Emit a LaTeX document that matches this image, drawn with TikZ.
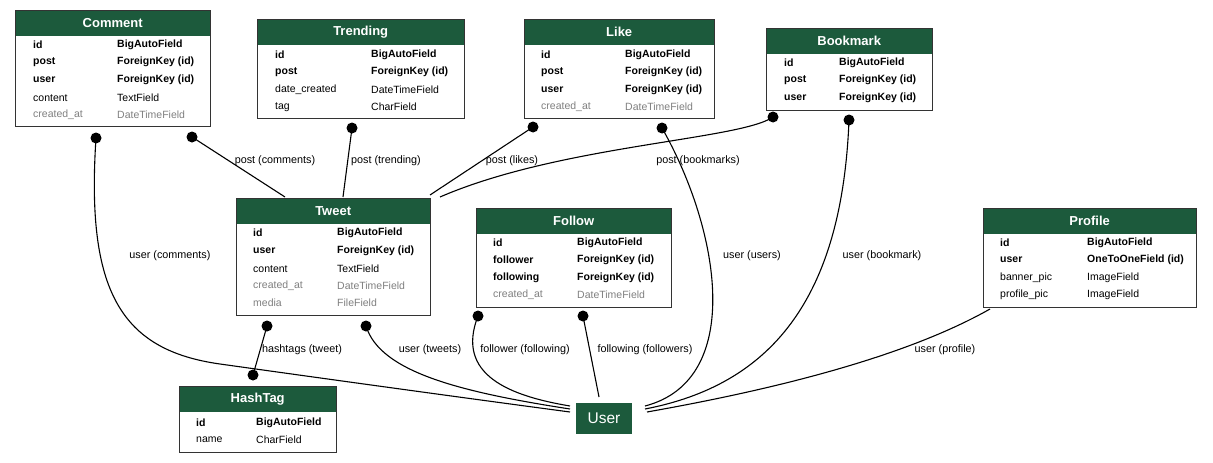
\documentclass[tikz,border=0pt]{standalone}
\usepackage{fontspec}
\setmainfont{Liberation Sans}
\usetikzlibrary{calc}
\definecolor{hdr}{HTML}{1C5A3C}
\definecolor{fgray}{HTML}{808080}
\tikzset{
  tbox/.style={draw=black!80, line width=1.4pt, inner sep=0pt},
  thead/.style={fill=hdr, inner sep=0pt, minimum height=26pt, text=white, font=\fontsize{13}{15}\selectfont\bfseries},
  cell/.style={anchor=west, inner sep=0pt, font=\fontsize{10.5}{12}\selectfont},
  lbl/.style={inner sep=1pt, font=\fontsize{10.8}{12}\selectfont},
  dot/.style={circle, fill=black, inner sep=0pt, minimum size=11pt},
  conn/.style={line width=1.1pt},
  unode/.style={fill=hdr, text=white, minimum width=56pt, minimum height=31pt, inner sep=0pt, font=\fontsize{15.5}{17}\selectfont}
}
\newcommand\mktable[6]{%
  \node[thead, anchor=north west, minimum width=#4pt] (#1-h) at (#2,#3) {#6};
  \node[tbox, anchor=north west, minimum width=#4pt, minimum height=#5pt] (#1) at (#2,#3) {};
}
\newcommand\frow[6]{%
  \node[cell] (#1-a) at (#2,#4) {#5};
  \node[cell] (#1-b) at (#3,#4) {#6};
}
\newcommand\bb[1]{\textbf{#1}}
\newcommand\gry[1]{\textcolor{fgray}{#1}}
\begin{document}
\begin{tikzpicture}[x=1pt,y=-1pt]
\useasboundingbox[fill=white] (0,0) rectangle (1213,463);

% Comment
\mktable{comment}{15}{10}{195}{116}{Comment}
\frow{cm1}{33}{117}{45}{\bb{id}}{\bb{BigAutoField}}
\frow{cm2}{33}{117}{62}{\bb{post}}{\bb{ForeignKey (id)}}
\frow{cm3}{33}{117}{80}{\bb{user}}{\bb{ForeignKey (id)}}
\frow{cm4}{33}{117}{98}{content}{TextField}
\frow{cm5}{33}{117}{115}{\gry{created\_at}}{\gry{DateTimeField}}

% Trending
\mktable{trending}{257}{19}{207}{99}{Trending}
\frow{tr1}{275}{371}{55}{\bb{id}}{\bb{BigAutoField}}
\frow{tr2}{275}{371}{72}{\bb{post}}{\bb{ForeignKey (id)}}
\frow{tr3}{275}{371}{90}{date\_created}{DateTimeField}
\frow{tr4}{275}{371}{107}{tag}{CharField}

% Like
\mktable{like}{524}{19}{190}{99}{Like}
\frow{lk1}{541}{625}{55}{\bb{id}}{\bb{BigAutoField}}
\frow{lk2}{541}{625}{72}{\bb{post}}{\bb{ForeignKey (id)}}
\frow{lk3}{541}{625}{90}{\bb{user}}{\bb{ForeignKey (id)}}
\frow{lk4}{541}{625}{107}{\gry{created\_at}}{\gry{DateTimeField}}

% Bookmark
\mktable{bookmark}{766}{28}{166}{82}{Bookmark}
\frow{bm1}{784}{839}{63}{\bb{id}}{\bb{BigAutoField}}
\frow{bm2}{784}{839}{80}{\bb{post}}{\bb{ForeignKey (id)}}
\frow{bm3}{784}{839}{98}{\bb{user}}{\bb{ForeignKey (id)}}

% Tweet
\mktable{tweet}{236}{198}{194}{117}{Tweet}
\frow{tw1}{253}{337}{233}{\bb{id}}{\bb{BigAutoField}}
\frow{tw2}{253}{337}{251}{\bb{user}}{\bb{ForeignKey (id)}}
\frow{tw3}{253}{337}{269}{content}{TextField}
\frow{tw4}{253}{337}{286}{\gry{created\_at}}{\gry{DateTimeField}}
\frow{tw5}{253}{337}{303}{\gry{media}}{\gry{FileField}}

% Follow
\mktable{follow}{476}{208}{195}{99}{Follow}
\frow{fo1}{493}{577}{243}{\bb{id}}{\bb{BigAutoField}}
\frow{fo2}{493}{577}{260}{\bb{follower}}{\bb{ForeignKey (id)}}
\frow{fo3}{493}{577}{278}{\bb{following}}{\bb{ForeignKey (id)}}
\frow{fo4}{493}{577}{295}{\gry{created\_at}}{\gry{DateTimeField}}

% Profile
\mktable{profile}{983}{208}{213}{99}{Profile}
\frow{pr1}{1000}{1087}{243}{\bb{id}}{\bb{BigAutoField}}
\frow{pr2}{1000}{1087}{260}{\bb{user}}{\bb{OneToOneField (id)}}
\frow{pr3}{1000}{1087}{278}{banner\_pic}{ImageField}
\frow{pr4}{1000}{1087}{295}{profile\_pic}{ImageField}

% HashTag
\mktable{hashtag}{179}{386}{157}{66}{HashTag}
\frow{ht1}{196}{256}{423}{\bb{id}}{\bb{BigAutoField}}
\frow{ht2}{196}{256}{440}{name}{CharField}

% User
\node[unode] (user) at (604,418) {User};

% dots
\node[dot] (d-cu) at (96,138) {};
\node[dot] (d-cp) at (192,137) {};
\node[dot] (d-tp) at (352,128) {};
\node[dot] (d-lp) at (533,127) {};
\node[dot] (d-lu) at (662,128) {};
\node[dot] (d-bp) at (773,117) {};
\node[dot] (d-bu) at (849,120) {};
\node[dot] (d-th) at (267,326) {};
\node[dot] (d-tu) at (366,326) {};
\node[dot] (d-hh) at (253,375) {};
\node[dot] (d-ff) at (478,316) {};
\node[dot] (d-fg) at (583,316) {};

% endpoints
\coordinate (tw-a) at (285,197);
\coordinate (tw-b) at (343,197);
\coordinate (tw-c) at (430,195);
\coordinate (tw-d) at (440,197);
\coordinate (u-l1) at (570,412);
\coordinate (u-l2) at (570,409);
\coordinate (u-l3) at (570,406);
\coordinate (u-t) at (599,397);
\coordinate (u-r1) at (645,406);
\coordinate (u-r2) at (645,409);
\coordinate (u-r3) at (647,412);
\coordinate (pr-e) at (990,309);

% connectors
\draw[conn] (d-cu.center) .. controls (86,290) and (120,350) .. (220,364) .. controls (320,378) and (450,396) .. (u-l1);
\draw[conn] (d-cp.center) -- (tw-a);
\draw[conn] (d-tp.center) -- (tw-b);
\draw[conn] (d-lp.center) -- (tw-c);
\draw[conn] (d-bp.center) .. controls (740,140) and (560,145) .. (tw-d);
\draw[conn] (d-lu.center) .. controls (720,230) and (745,380) .. (u-r1);
\draw[conn] (d-bu.center) .. controls (842,300) and (770,385) .. (u-r2);
\draw[conn] (pr-e) .. controls (900,360) and (760,392) .. (u-r3);
\draw[conn] (d-tu.center) .. controls (380,372) and (460,392) .. (u-l2);
\draw[conn] (d-th.center) -- (d-hh.center);
\draw[conn] (d-ff.center) .. controls (455,375) and (510,396) .. (u-l3);
\draw[conn] (d-fg.center) -- (u-t);

% labels
\node[lbl] (l1) at (275,161) {post (comments)};
\node[lbl] (l2) at (386,161) {post (trending)};
\node[lbl] (l3) at (512,161) {post (likes)};
\node[lbl] (l4) at (698,161) {post (bookmarks)};
\node[lbl] (l5) at (170,256) {user (comments)};
\node[lbl] (l6) at (752,256) {user (users)};
\node[lbl] (l7) at (882,256) {user (bookmark)};
\node[lbl] (l8) at (302,350) {hashtags (tweet)};
\node[lbl] (l9) at (430,350) {user (tweets)};
\node[lbl] (l10) at (525,350) {follower (following)};
\node[lbl] (l11) at (645,350) {following (followers)};
\node[lbl] (l12) at (945,350) {user (profile)};
\end{tikzpicture}
\end{document}
